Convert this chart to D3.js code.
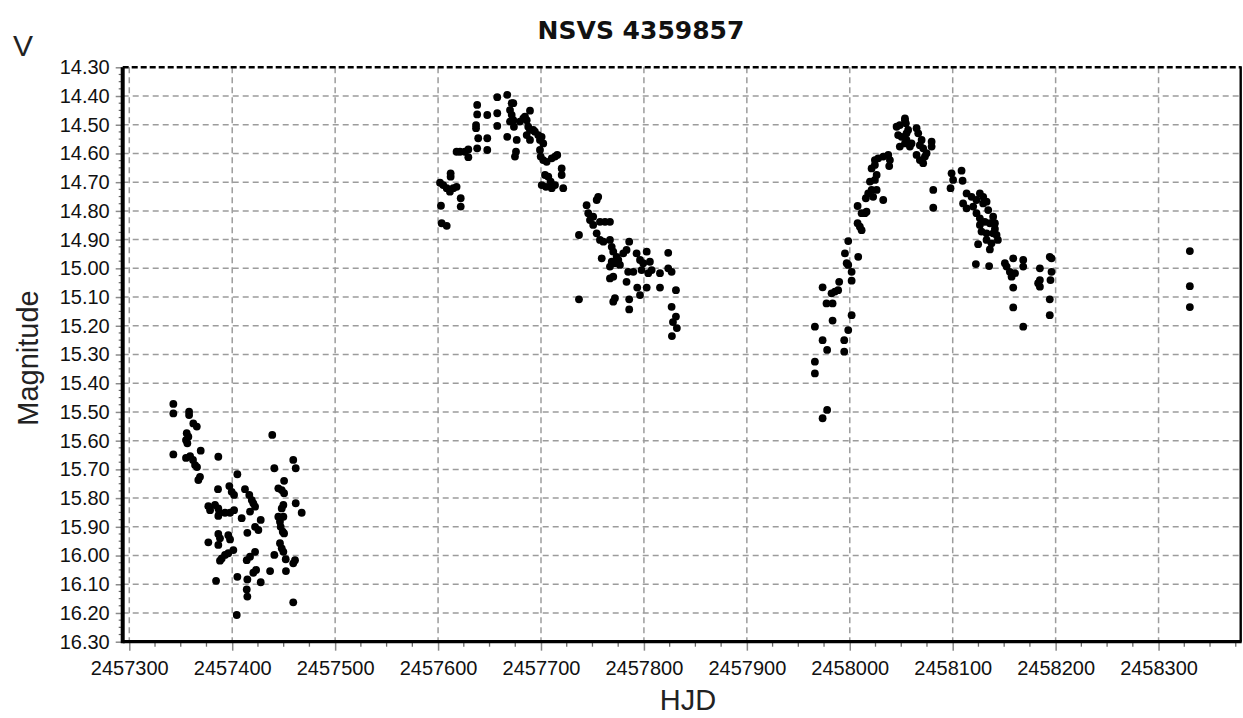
<!DOCTYPE html>
<html>
<head>
<meta charset="utf-8">
<script src="https://cdn.jsdelivr.net/npm/d3@7/dist/d3.min.js"></script>
<style>
  body { margin: 0; background: #ffffff; }
  svg { display: block; }
</style>
</head>
<body>
<svg id="chart" width="1243" height="718"></svg>
<script>
// Light curve of NSVS 4359857: V magnitude against heliocentric Julian date.
const chartTitle = "NSVS 4359857";
const bandLabel = "V";
const xAxisTitle = "HJD";
const yAxisTitle = "Magnitude";

const xTickValues = [2457300, 2457400, 2457500, 2457600, 2457700, 2457800,
                     2457900, 2458000, 2458100, 2458200, 2458300];
const yTickValues = [14.3, 14.4, 14.5, 14.6, 14.7, 14.8, 14.9, 15.0, 15.1, 15.2, 15.3,
                     15.4, 15.5, 15.6, 15.7, 15.8, 15.9, 16.0, 16.1, 16.2, 16.3];

// Observations as [HJD, V magnitude], one array per observing stretch.
const season1 = [
  [2457342.8,15.472],[2457342.8,15.505],[2457358.1,15.499],[2457358.1,15.511],[2457362.2,15.540],
  [2457365.6,15.551],[2457355.8,15.574],[2457357.4,15.586],[2457355.1,15.598],[2457356.4,15.609],
  [2457342.8,15.648],[2457369.4,15.635],[2457359.1,15.654],[2457361.9,15.667],[2457363.9,15.685],
  [2457365.8,15.692],[2457355.1,15.660],[2457386.5,15.656],[2457368.7,15.726],[2457367.1,15.737],
  [2457405.0,15.717],[2457386.2,15.769],[2457397.2,15.758],[2457399.5,15.778],[2457401.8,15.789],
  [2457412.4,15.769],[2457416.6,15.789],[2457419.0,15.807],[2457420.5,15.818],[2457422.2,15.830],
  [2457417.3,15.847],[2457376.8,15.828],[2457378.5,15.842],[2457383.3,15.824],[2457386.5,15.836],
  [2457387.5,15.851],[2457386.5,15.862],[2457393.0,15.851],[2457397.9,15.851],[2457401.8,15.842],
  [2457409.2,15.870],[2457414.7,15.921],[2457422.2,15.900],[2457425.4,15.911],[2457427.7,15.876],
  [2457386.5,15.925],[2457388.1,15.940],[2457396.2,15.929],[2457397.9,15.944],[2457376.8,15.954],
  [2457386.5,15.963],[2457401.1,15.981],[2457396.2,15.992],[2457393.0,15.998],[2457389.8,16.010],
  [2457388.1,16.018],[2457414.1,16.016],[2457417.3,16.004],[2457422.2,15.987],[2457384.3,16.088],
  [2457405.0,16.074],[2457414.7,16.083],[2457414.1,16.118],[2457414.7,16.143],[2457420.5,16.060],
  [2457423.2,16.050],[2457427.7,16.093],[2457404.4,16.207],[2457438.9,15.580],[2457440.9,15.696],
  [2457459.3,15.667],[2457461.7,15.696],[2457450.4,15.740],[2457448.1,15.772],[2457444.8,15.766],
  [2457450.4,15.783],[2457461.7,15.818],[2457467.5,15.851],[2457449.7,15.824],[2457448.1,15.836],
  [2457444.8,15.865],[2457449.7,15.865],[2457446.4,15.882],[2457447.1,15.900],[2457449.1,15.917],
  [2457450.4,15.923],[2457446.4,15.957],[2457448.1,15.975],[2457449.7,15.987],[2457440.9,15.998],
  [2457452.0,16.013],[2457461.0,16.016],[2457459.3,16.027],[2457452.2,16.054],[2457436.8,16.054],
  [2457459.3,16.163]
];

const season2Rise = [
  [2457603.5,14.843],[2457608.4,14.852],[2457602.8,14.782],[2457622.0,14.756],[2457622.0,14.785],
  [2457601.9,14.702],[2457605.0,14.710],[2457608.4,14.721],[2457611.5,14.733],[2457614.8,14.721],
  [2457618.0,14.716],[2457612.2,14.669],[2457612.2,14.681],[2457618.0,14.594],[2457621.3,14.594],
  [2457626.1,14.594],[2457629.4,14.586],[2457629.4,14.613],[2457638.0,14.582],[2457639.0,14.547],
  [2457636.9,14.512],[2457636.9,14.501],[2457638.0,14.464],[2457638.0,14.431],[2457647.8,14.588],
  [2457647.8,14.547],[2457647.8,14.466],[2457657.5,14.504],[2457657.5,14.460],[2457657.5,14.404],
  [2457667.2,14.396],[2457667.2,14.542],[2457671.5,14.425],[2457669.9,14.449],[2457671.5,14.466],
  [2457673.1,14.484],[2457669.9,14.489],[2457673.7,14.507],[2457676.4,14.553],[2457675.7,14.594],
  [2457674.7,14.611],[2457679.5,14.489],[2457682.8,14.478],[2457686.1,14.484],[2457689.3,14.451],
  [2457687.6,14.507],[2457689.3,14.518],[2457686.1,14.536],[2457689.3,14.553],[2457694.1,14.524],
  [2457697.3,14.536],[2457699.0,14.553],[2457700.6,14.542],[2457702.2,14.565],[2457699.0,14.588],
  [2457699.7,14.611],[2457702.2,14.623],[2457705.5,14.629],[2457710.4,14.617],[2457713.6,14.611],
  [2457715.8,14.605],[2457703.9,14.675],[2457707.1,14.681],[2457709.4,14.698],[2457700.7,14.710],
  [2457704.8,14.716],[2457710.4,14.721],[2457713.6,14.710],[2457720.1,14.652],[2457720.1,14.675],
  [2457721.6,14.721],[2457673.1,14.425],[2457684.4,14.472],[2457692.5,14.518]
];

const season2Fall = [
  [2457736.9,14.884],[2457736.9,15.108],[2457744.3,14.780],[2457745.9,14.808],[2457750.7,14.820],
  [2457755.6,14.751],[2457754.1,14.762],[2457747.6,14.832],[2457750.7,14.849],[2457757.3,14.838],
  [2457762.2,14.838],[2457767.0,14.838],[2457754.1,14.878],[2457757.3,14.901],[2457760.6,14.907],
  [2457767.0,14.901],[2457759.0,14.965],[2457768.7,14.925],[2457770.2,14.942],[2457773.5,14.960],
  [2457768.7,14.977],[2457771.8,14.982],[2457775.1,14.971],[2457776.7,14.988],[2457767.0,14.994],
  [2457779.9,14.948],[2457783.1,14.936],[2457785.7,14.907],[2457770.2,15.029],[2457767.0,15.035],
  [2457784.7,15.012],[2457789.7,15.012],[2457783.1,15.047],[2457792.9,14.948],[2457796.2,14.971],
  [2457799.3,14.982],[2457802.7,14.942],[2457805.8,14.977],[2457807.5,15.006],[2457804.2,15.017],
  [2457797.7,15.006],[2457793.5,15.067],[2457802.7,15.067],[2457796.2,15.093],[2457771.8,15.104],
  [2457770.2,15.116],[2457785.7,15.108],[2457785.7,15.143],[2457815.6,15.017],[2457815.6,15.067],
  [2457823.6,14.946],[2457823.6,15.000],[2457826.9,15.012],[2457831.1,15.076],[2457826.9,15.134],
  [2457831.1,15.168],[2457828.2,15.187],[2457832.0,15.208],[2457827.2,15.236]
];

const season3Rise = [
  [2457973.6,15.522],[2457978.0,15.493],[2457966.1,15.325],[2457966.1,15.366],[2457966.1,15.203],
  [2457973.6,15.250],[2457978.0,15.284],[2457983.3,15.182],[2457973.6,15.066],[2457977.4,15.122],
  [2457983.3,15.122],[2457982.3,15.087],[2457985.6,15.081],[2457988.7,15.076],[2457989.7,15.047],
  [2457994.6,15.250],[2457994.6,15.290],[2457998.5,15.215],[2458001.8,15.163],[2457995.3,14.948],
  [2457997.0,14.982],[2457998.5,14.988],[2458001.8,15.012],[2458001.8,15.043],[2457998.5,14.905],
  [2458008.2,14.960],[2458007.6,14.843],[2458009.8,14.855],[2458011.5,14.867],[2458007.6,14.783],
  [2458011.5,14.808],[2458014.7,14.808],[2458016.3,14.803],[2458015.6,14.756],[2458017.9,14.739],
  [2458021.2,14.727],[2458022.7,14.751],[2458026.1,14.727],[2458019.6,14.698],[2458024.4,14.692],
  [2458026.1,14.675],[2458021.2,14.652],[2458024.4,14.640],[2458032.5,14.762],[2458024.4,14.623],
  [2458027.6,14.617],[2458032.5,14.611],[2458037.4,14.605],[2458039.0,14.623],[2458038.3,14.644],
  [2458045.5,14.507],[2458048.6,14.501],[2458053.6,14.484],[2458054.5,14.495],[2458047.0,14.536],
  [2458050.3,14.542],[2458048.6,14.576],[2458053.6,14.565],[2458055.1,14.553],[2458056.7,14.518],
  [2458058.4,14.576],[2458055.1,14.530],[2458064.9,14.512],[2458066.5,14.530],[2458069.8,14.553],
  [2458071.3,14.582],[2458064.9,14.605],[2458068.1,14.623],[2458071.3,14.634],[2458073.0,14.611],
  [2458074.6,14.599],[2458079.5,14.559],[2458079.5,14.576],[2458068.1,14.571],[2458081.1,14.727],
  [2458081.1,14.789],[2458053.6,14.478],[2458060.0,14.565]
];

const season3Fall = [
  [2458098.9,14.669],[2458100.4,14.692],[2458097.9,14.721],[2458108.6,14.660],[2458109.6,14.695],
  [2458113.5,14.739],[2458118.3,14.751],[2458123.1,14.762],[2458126.4,14.739],[2458129.6,14.751],
  [2458132.9,14.768],[2458110.1,14.774],[2458113.5,14.791],[2458119.9,14.785],[2458123.1,14.808],
  [2458126.4,14.826],[2458131.2,14.838],[2458136.1,14.843],[2458141.0,14.843],[2458126.4,14.849],
  [2458128.0,14.872],[2458132.9,14.878],[2458139.3,14.878],[2458142.6,14.884],[2458132.9,14.901],
  [2458137.7,14.913],[2458136.1,14.934],[2458124.7,14.916],[2458122.5,14.985],[2458135.4,14.992],
  [2458150.7,14.982],[2458152.4,14.994],[2458155.5,15.012],[2458157.2,15.029],[2458158.8,14.965],
  [2458160.5,15.017],[2458158.8,15.067],[2458158.8,15.136],[2458168.5,14.971],[2458168.5,14.994],
  [2458168.5,15.203],[2458184.7,15.000],[2458184.7,15.041],[2458184.7,15.064],[2458183.0,15.052],
  [2458194.3,14.960],[2458196.0,14.965],[2458196.0,15.012],[2458195.0,15.041],[2458194.3,15.108],
  [2458194.3,15.163],[2458129.6,14.774],[2458134.5,14.797],[2458139.3,14.820],[2458141.0,14.863],
  [2458143.9,14.901]
];

const season4 = [
  [2458330.4,14.940],[2458330.4,15.062],[2458330.4,15.135]
];

const observations = [].concat(season1, season2Rise, season2Fall, season3Rise, season3Fall, season4);

// Layout
const plot = { left: 122.7, right: 1240.7, top: 67.3, bottom: 641.7 };
const svg = d3.select("#chart");

const x = d3.scaleLinear().domain([2457293.6, 2458379.8]).range([plot.left, plot.right]);
const y = d3.scaleLinear().domain([14.3, 16.3]).range([plot.top, plot.bottom]);

const tickFont = "'Liberation Sans', Arial, sans-serif";
const titleFont = "'DejaVu Sans', Verdana, sans-serif";
const gridColor = "#9c9c9c";

// Grid
const grid = svg.append("g").attr("class", "grid");
grid.selectAll("line.hgrid")
  .data(yTickValues.filter(v => v > 14.3 && v < 16.3))
  .join("line")
  .attr("x1", plot.left).attr("x2", plot.right)
  .attr("y1", d => y(d)).attr("y2", d => y(d))
  .attr("stroke", gridColor).attr("stroke-width", 1.5)
  .attr("stroke-dasharray", "6,4");
grid.selectAll("line.vgrid")
  .data(xTickValues)
  .join("line")
  .attr("x1", d => x(d)).attr("x2", d => x(d))
  .attr("y1", plot.top).attr("y2", plot.bottom)
  .attr("stroke", gridColor).attr("stroke-width", 1.5)
  .attr("stroke-dasharray", "6,4");

// Minor ticks
const xMinor = d3.range(2457300, 2458380, 25).filter(v => (v - 2457300) % 100 !== 0);
const yMinor = d3.range(0, 80).map(i => 14.3 + i * 0.025).filter((v, i) => i % 4 !== 0);

const xAxis = d3.axisBottom(x).tickValues(xTickValues).tickFormat(d3.format("d"))
  .tickSize(9).tickPadding(10);
const yAxis = d3.axisLeft(y).tickValues(yTickValues).tickFormat(d3.format(".2f"))
  .tickSize(7).tickPadding(6);

const gx = svg.append("g").attr("transform", `translate(0,${plot.bottom})`).call(xAxis);
const gy = svg.append("g").attr("transform", `translate(${plot.left},0)`).call(yAxis);
[gx, gy].forEach(g => {
  g.select(".domain").remove();
  g.selectAll(".tick line").attr("stroke", "#8a8a8a").attr("stroke-width", 1.5);
  g.selectAll(".tick text").attr("fill", "#111").style("font-family", tickFont).style("font-size", "20px");
});

svg.append("g").selectAll("line")
  .data(xMinor).join("line")
  .attr("x1", d => x(d)).attr("x2", d => x(d))
  .attr("y1", plot.bottom).attr("y2", plot.bottom + 5)
  .attr("stroke", "#6a6a6a").attr("stroke-width", 1.3);
svg.append("g").selectAll("line")
  .data(yMinor).join("line")
  .attr("x1", plot.left - 4).attr("x2", plot.left)
  .attr("y1", d => y(d)).attr("y2", d => y(d))
  .attr("stroke", "#6a6a6a").attr("stroke-width", 1.2);

// Frame
svg.append("line")
  .attr("x1", plot.left).attr("x2", plot.right).attr("y1", plot.top).attr("y2", plot.top)
  .attr("stroke", "#000").attr("stroke-width", 2.4).attr("stroke-dasharray", "6,3");
svg.append("line")
  .attr("x1", plot.right).attr("x2", plot.right).attr("y1", plot.top - 1).attr("y2", plot.bottom)
  .attr("stroke", "#000").attr("stroke-width", 2.4);
svg.append("line")
  .attr("x1", plot.left).attr("x2", plot.right + 1).attr("y1", plot.bottom).attr("y2", plot.bottom)
  .attr("stroke", "#000").attr("stroke-width", 3.2);
svg.append("line")
  .attr("x1", plot.left).attr("x2", plot.left).attr("y1", plot.top).attr("y2", plot.bottom + 1.5)
  .attr("stroke", "#000").attr("stroke-width", 4);

// Observations
svg.append("g").selectAll("circle")
  .data(observations).join("circle")
  .attr("cx", d => x(d[0]))
  .attr("cy", d => y(d[1]))
  .attr("r", 3.9)
  .attr("fill", "#000");

// Titles
svg.append("text")
  .attr("x", 641).attr("y", 39)
  .attr("text-anchor", "middle")
  .style("font-family", titleFont).style("font-weight", "bold").style("font-size", "25px")
  .attr("fill", "#111")
  .text(chartTitle);

svg.append("text")
  .attr("x", 23).attr("y", 56)
  .attr("text-anchor", "middle")
  .style("font-family", tickFont).style("font-size", "30px")
  .attr("fill", "#222")
  .text(bandLabel);

svg.append("text")
  .attr("transform", "translate(38,358) rotate(-90)")
  .attr("text-anchor", "middle")
  .style("font-family", tickFont).style("font-size", "29px")
  .attr("fill", "#222")
  .text(yAxisTitle);

svg.append("text")
  .attr("x", 688).attr("y", 710)
  .attr("text-anchor", "middle")
  .style("font-family", tickFont).style("font-size", "29px")
  .attr("fill", "#222")
  .text(xAxisTitle);
</script>
</body>
</html>
